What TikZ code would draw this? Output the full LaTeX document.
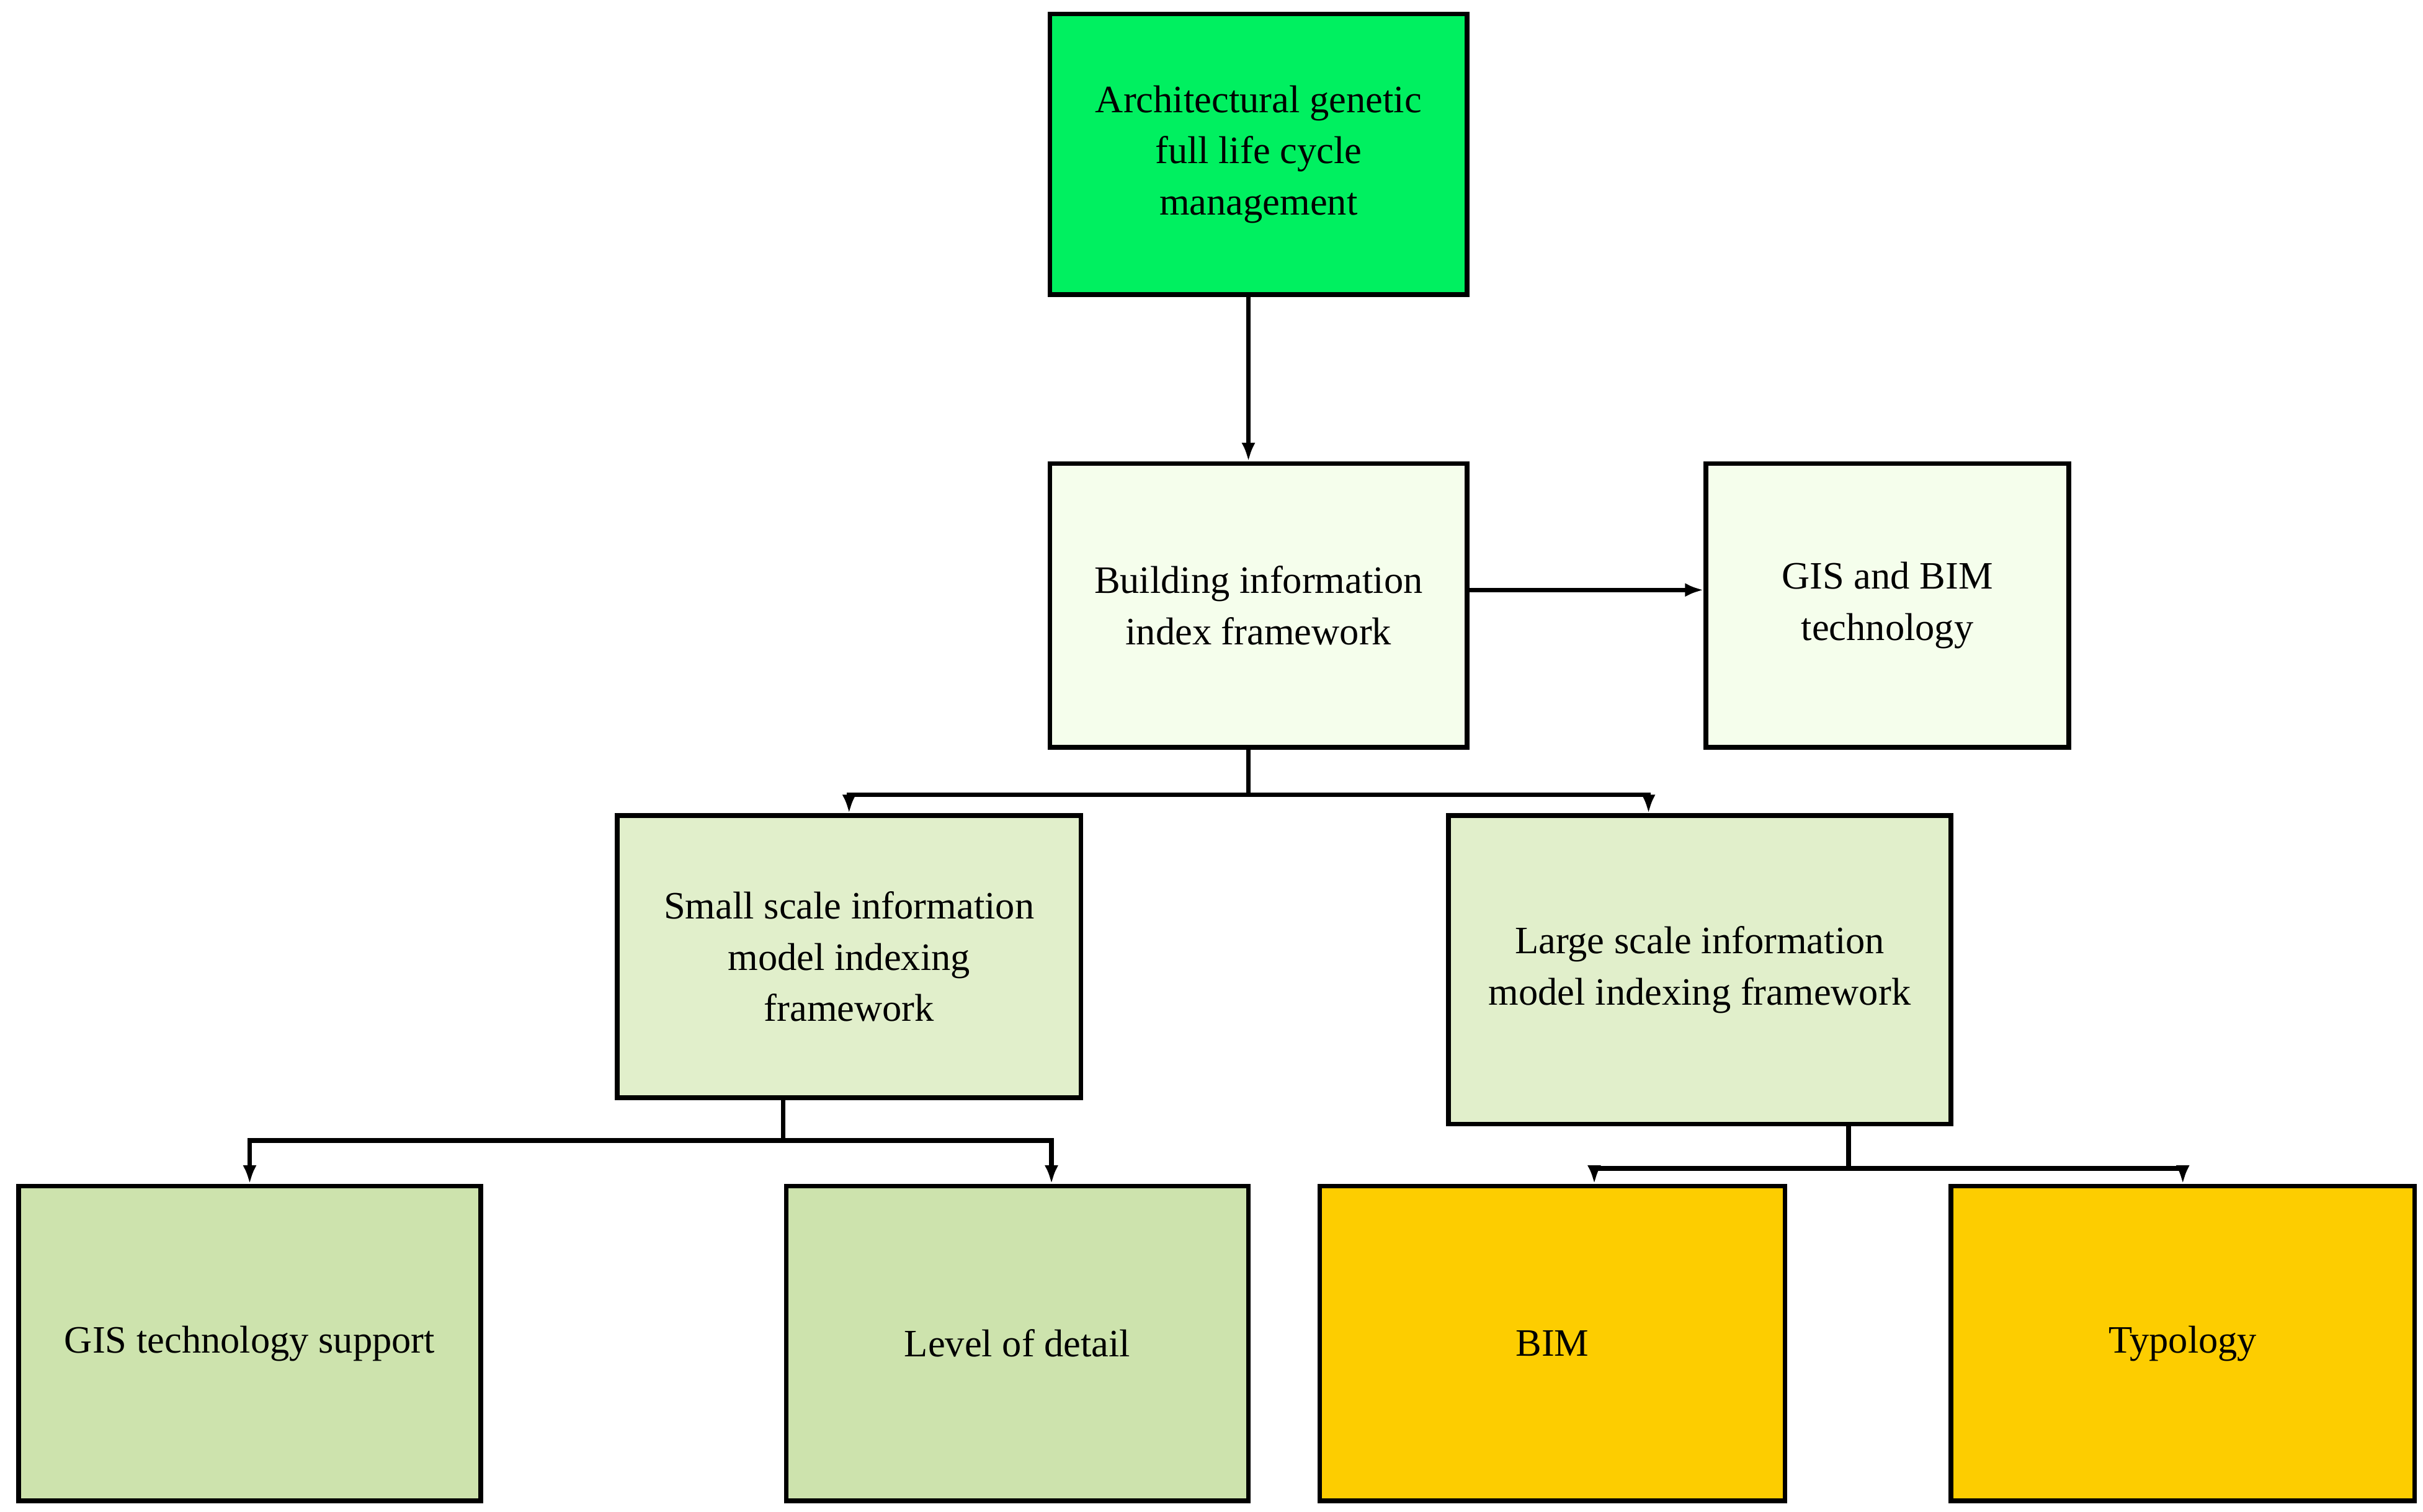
\documentclass[tikz,border=0pt]{standalone}
\usepackage{fontspec}
\setmainfont{Liberation Serif}
\usetikzlibrary{arrows.meta,calc}
\definecolor{cTop}{HTML}{00F060}
\definecolor{cPale}{HTML}{F5FEEC}
\definecolor{cMid}{HTML}{E1EFCB}
\definecolor{cLeaf}{HTML}{CDE3AD}
\definecolor{cGold}{HTML}{FDCD00}
\begin{document}
\begin{tikzpicture}[x=0.5pt,y=-0.5pt,
 box/.style={draw=black,line width=1.5pt,align=center,inner sep=0pt,font=\fontsize{12.5}{16.5}\selectfont},
 conn/.style={line width=1.5pt,-{Latex[length=6pt,width=4.5pt]}}]
\useasboundingbox (0,0) rectangle (1562.4,974.8);
\node[box,fill=cTop,minimum width=134.5pt,minimum height=90.5pt] (top) at (811.5,99.5) {Architectural genetic\\full life cycle\\management};
\node[box,fill=cPale,minimum width=134.5pt,minimum height=91.5pt] (bld) at (811.5,390.5) {Building information\\index framework};
\node[box,fill=cPale,minimum width=117pt,minimum height=91.5pt] (gis) at (1217,390.5) {GIS and BIM\\technology};
\node[box,fill=cMid,minimum width=149.5pt,minimum height=91pt] (small) at (547.5,617) {Small scale information\\model indexing\\framework};
\node[box,fill=cMid,minimum width=162pt,minimum height=99.5pt] (large) at (1096,625.5) {Large scale information\\model indexing framework};
\node[box,fill=cLeaf,minimum width=149pt,minimum height=101.5pt] (gist) at (161,866.5) {GIS technology support};
\node[box,fill=cLeaf,minimum width=149pt,minimum height=101.5pt] (lod) at (656,866.5) {Level of detail};
\node[box,fill=cGold,minimum width=150pt,minimum height=101.5pt] (bim) at (1001,866.5) {BIM};
\node[box,fill=cGold,minimum width=149.5pt,minimum height=101.5pt] (typ) at (1407.5,866.5) {Typology};
\draw[conn] ($(top.south)+(-6.5,0)$) -- ($(bld.north)+(-6.5,0)$);
\draw[conn] ($(bld.east)+(0,-10)$) -- ($(gis.west)+(0,-10)$);
\coordinate (j1) at ($(bld.south)+(-6.5,29)$);
\draw[conn] ($(bld.south)+(-6.5,0)$) -- (j1) -| (small.north);
\draw[conn] (j1) -| ($(large.north)+(-33,0)$);
\coordinate (j2) at ($(small.south)+(-42.5,26)$);
\draw[conn] ($(small.south)+(-42.5,0)$) -- (j2) -| (gist.north);
\draw[conn] (j2) -| ($(lod.north)+(22,0)$);
\coordinate (j3) at ($(large.south)+(96,27)$);
\draw[conn] ($(large.south)+(96,0)$) -- (j3) -| ($(bim.north)+(27,0)$);
\draw[conn] (j3) -| (typ.north);
\end{tikzpicture}
\end{document}
